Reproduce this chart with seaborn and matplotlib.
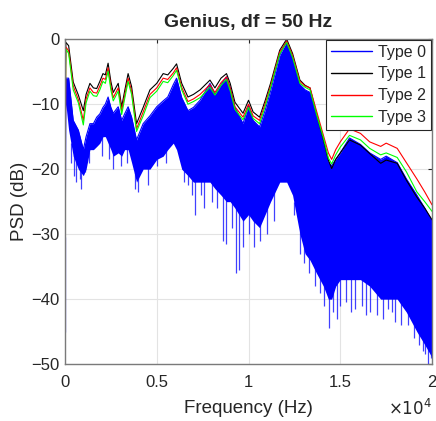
import numpy as np
import pandas as pd
import matplotlib
matplotlib.use("Agg")
import matplotlib.pyplot as plt
import seaborn as sns

# frequency grid (kHz)
freq_khz = [0, 0.05, 0.2, 0.45, 0.73, 1.0, 1.15, 1.36, 1.55, 1.73, 1.9, 2.07, 2.2, 2.35, 2.5,
            2.63, 2.9, 3.09, 3.25, 3.44, 3.63, 3.9, 4.26, 4.63, 5.0, 5.35, 5.6, 5.9, 6.08, 6.36,
            6.7, 7.0, 7.36, 7.9, 8.17, 8.5, 8.8, 9.0, 9.26, 9.7, 10.0, 10.25, 10.6, 10.9, 11.2,
            11.7, 12.08, 12.4, 12.8, 13.08, 13.35, 13.7, 14.08, 14.35, 14.53, 14.75, 15.0, 15.5,
            16.1, 16.6, 17.2, 17.5, 18.1, 18.6, 19.17, 19.6, 20.0]

type1 = [-8, -0.5, -1, -6.6, -8.6, -11, -8.5, -6.8, -7.5, -7.6, -6.5, -5.3, -5.5, -3.7, -6.5,
         -8.2, -6.8, -10.4, -8, -5.3, -7.3, -13, -10.5, -7.8, -6.8, -5.3, -5.5, -4.5, -3.8, -6.8,
         -8.9, -8.5, -7.8, -6.3, -7.5, -6, -5.3, -6.8, -9.7, -11.4, -9.4, -11.2, -12, -9.5, -6.8,
         -1.7, 0, -2.2, -6.3, -7.1, -7.5, -11.4, -15.5, -18.6, -19.9, -18.5, -17.5, -15.5,
         -16.3, -17.6, -19.1, -18.6, -19.1, -21.7, -24.3, -26, -27.8]

type2 = [-28, -1.2, -1.8, -7.2, -9.3, -12.5, -9.2, -7.5, -8.2, -8.3, -7.2, -6, -6.2, -4.4, -7.2,
         -9, -7.5, -11, -8.7, -6, -8, -13.8, -11.2, -8.5, -7.5, -6, -6.2, -5.2, -4.4, -7.4,
         -9.6, -9.2, -8.5, -7, -8.2, -6.7, -5.8, -7.5, -10.4, -12, -10, -11.8, -12.5, -10,
         -7.2, -2, -0.3, -2.5, -6.5, -7.2, -7.5, -11, -14.8, -17.5, -18.5, -17, -15.8, -13.8,
         -14.5, -15.8, -16.5, -16, -16.8, -19, -21.5, -23.5, -25.5]

type3 = [-16, -1.5, -2.2, -7.8, -9.8, -13.2, -9.8, -8, -8.7, -8.8, -7.8, -6.5, -6.8, -4.9, -7.8,
         -9.5, -8, -11.6, -9.2, -6.5, -8.5, -14.2, -11.8, -9, -8, -6.5, -6.7, -5.6, -4.8, -7.8,
         -10, -9.6, -9, -7.4, -8.6, -7.1, -6.2, -7.9, -10.8, -12.4, -10.5, -12.2, -13, -10.4,
         -7.5, -2.3, -0.5, -2.8, -6.8, -7.4, -7.8, -11.5, -15.2, -18.3, -19.2, -17.8, -16.6,
         -14.8, -15.5, -16.8, -17.8, -17.5, -18.2, -20.4, -23.5, -25, -26.5]

# Type 0: upper edge and bottom of the solid band
type0_top = [-6, -6, -6, -12.5, -14, -17, -15, -13, -13, -12, -11.5, -10.5, -10, -8.9, -10.5,
             -11.4, -10.4, -12.5, -11.5, -10.4, -12, -15.5, -13, -11.8, -10.4, -9.5, -8.9, -7,
             -6, -9, -11, -10.5, -9.4, -6.8, -8.5, -7, -5.8, -7.5, -10.5, -13, -10.2, -12.5,
             -13.5, -11, -8, -2.5, -0.3, -2.8, -7, -7.8, -8.2, -12, -16, -19, -19.5, -18.5,
             -17.5, -15.2, -16.2, -17.5, -18.5, -18, -19, -21.5, -24, -26, -28]

type0_bottom = [-45, -10, -14, -18, -20, -21, -20, -17, -17, -16.5, -16, -15, -15, -16, -17,
                -18, -17.5, -18, -17, -17, -19, -22, -20, -20, -18.5, -18, -17, -16, -17, -20,
                -21, -22, -22, -22, -23, -24, -25, -25, -26, -28, -27, -28, -29, -27, -25,
                -22, -22, -24, -30, -33, -34, -36, -38, -40, -40, -38, -37, -37, -37, -38,
                -40, -40, -40, -42, -45, -47, -49]

# downward spikes of Type 0 (kHz, dB)
spike_khz = [0.02, 0.35, 0.5, 0.6, 0.8, 0.9, 1.1, 1.3, 2.0, 2.4, 2.6, 3.05, 3.4, 3.8, 4.0, 4.5,
             5.0, 5.5, 6.5, 6.7, 6.9, 7.1, 7.4, 7.6, 8.0, 8.3, 8.6, 8.8, 9.1, 9.3, 9.5, 9.7,
             10.0, 10.3, 10.6, 11.0, 11.4, 12.5, 12.8, 13.0, 13.3, 13.6, 13.9, 14.1, 14.4,
             14.6, 14.8, 15.0, 15.3, 15.6, 15.8, 16.2, 16.4, 16.6, 17.0, 17.3, 17.6, 17.8,
             18.0, 18.3, 18.7, 19.0, 19.3, 19.5, 19.6, 19.8, 19.95]
spike_db = [-45, -19, -21, -22, -21.5, -23, -20.5, -19, -18, -18.5, -20, -19.5, -19, -23,
            -23.5, -22.5, -19.5, -19, -22, -22.5, -24, -27, -24, -26, -25, -26, -31, -31.5,
            -29, -36, -35.5, -32, -30, -32, -31, -30, -28, -27, -33, -34.5, -36, -38, -39,
            -41, -44.5, -42, -43, -41, -40.5, -42, -41.5, -41, -42.5, -42, -42.5, -43, -41.5,
            -42, -43.5, -44, -44, -46, -47, -48, -48.5, -50, -49]

type_names = ["Type 0", "Type 1", "Type 2", "Type 3"]
type_colors = ["#0000ff", "#000000", "#ff0000", "#00ff00"]
x_ticks = [0, 5000, 10000, 15000, 20000]
x_tick_labels = ["0", "0.5", "1", "1.5", "2"]
y_ticks = [0, -10, -20, -30, -40, -50]

freq_hz = np.array(freq_khz) * 1000
frames = []
for name, vals in zip(type_names, [type0_top, type1, type2, type3]):
    frames.append(pd.DataFrame({"freq": freq_hz, "psd": vals, "type": name}))
df = pd.concat(frames, ignore_index=True)

sns.set_style("white")
plt.rcParams["font.family"] = ["Liberation Sans", "DejaVu Sans"]

fig = plt.figure(figsize=(4.36, 4.21), dpi=100)
ax = fig.add_axes([0.149, 0.135, 0.842, 0.772])

# solid band + spikes for Type 0
ax.fill_between(freq_hz, type0_bottom, type0_top, color="#0000ff", lw=0, zorder=1)
spike_hz = np.array(spike_khz) * 1000
ax.vlines(spike_hz, spike_db, np.interp(spike_hz, freq_hz, type0_bottom) + 0.5,
          color="#0000ff", lw=0.9, alpha=0.75, zorder=1)

sns.lineplot(data=df, x="freq", y="psd", hue="type", hue_order=type_names,
             palette=dict(zip(type_names, type_colors)), lw=0.8, sort=False,
             estimator=None, ax=ax)

ax.set_xlim(0, 20000)
ax.set_ylim(-50, 0)
ax.set_xticks(x_ticks)
ax.set_xticklabels(x_tick_labels)
ax.set_yticks(y_ticks)
ax.grid(True, color="#e3e3e3", lw=0.8)
ax.set_axisbelow(True)
ax.tick_params(direction="in", length=3, labelsize=12, colors="#262626",
               top=True, right=True)
ax.tick_params(axis="x", pad=8)
ax.tick_params(axis="y", pad=4)
for sp in ax.spines.values():
    sp.set_color("#7a7a7a")
    sp.set_linewidth(1.0)

ax.set_xlabel("Frequency (Hz)", fontsize=13.5, color="#262626", labelpad=7)
ax.set_ylabel("PSD (dB)", fontsize=13.5, color="#262626", labelpad=2)
ax.set_title("Genius, df = 50 Hz", fontsize=14, fontweight="bold", pad=9)
ax.text(1.0, -0.103, r"$\times10^{4}$", transform=ax.transAxes, ha="right", va="top",
        fontsize=12, color="#262626")

handles, labels = ax.get_legend_handles_labels()
leg = ax.legend(handles, labels, loc="upper right", fontsize=11.5, frameon=True,
                fancybox=False, edgecolor="#262626", framealpha=1, handlelength=2.6,
                borderaxespad=0.05, labelspacing=0.42, borderpad=0.3, handletextpad=0.4)
leg.get_frame().set_linewidth(0.8)
for line in leg.get_lines():
    line.set_linewidth(1.0)

fig.savefig("out.png", dpi=100)
